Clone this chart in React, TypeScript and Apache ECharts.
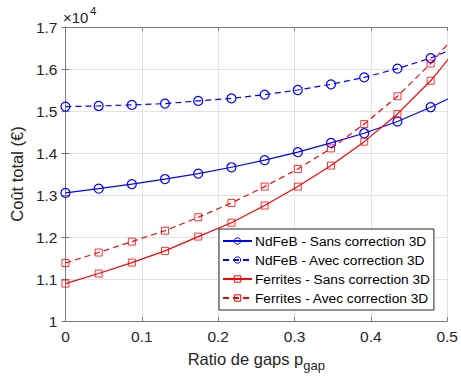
import React, { useEffect, useRef } from "react";
import * as echarts from "echarts";

// Ratio de gaps p_gap
const ratios = [0, 0.0435, 0.087, 0.1304, 0.1739, 0.2174, 0.2609, 0.3043, 0.3478, 0.3913, 0.4348, 0.4783, 0.5217];
// Coût total (€)
const ndfebSans = [13050, 13150, 13260, 13380, 13510, 13660, 13830, 14020, 14240, 14470, 14750, 15090, 15470];
const ndfebAvec = [15105, 15120, 15145, 15176, 15240, 15300, 15390, 15500, 15635, 15800, 16010, 16260, 16580];
const ferritesSans = [10890, 11130, 11390, 11670, 12010, 12340, 12750, 13200, 13700, 14270, 14930, 15720, 16680];
const ferritesAvec = [11380, 11630, 11890, 12150, 12470, 12810, 13200, 13620, 14110, 14690, 15350, 16130, 17030];

const seriesNames = [
  "NdFeB - Sans correction 3D",
  "NdFeB - Avec correction 3D",
  "Ferrites - Sans correction 3D",
  "Ferrites - Avec correction 3D",
];
const xTicks = [0, 0.1, 0.2, 0.3, 0.4, 0.5];

const FONT = "Liberation Sans, Arial, Helvetica, sans-serif";
const AX = "#262626";

export default function App() {
  const ref = useRef<HTMLDivElement>(null);
  useEffect(() => {
    if (!ref.current) return;
    const chart = echarts.init(ref.current, undefined, { renderer: "svg" });
    const mk = (name: string, ys: number[], color: string, dashed: boolean, symbol: string, size: number) => ({
      name,
      type: "line",
      data: ratios.map((x, i) => [x, ys[i]]),
      symbol,
      symbolSize: size,
      showAllSymbol: true,
      clip: true,
      lineStyle: { color, width: 1.2, type: dashed ? [6, 4] : "solid" },
      itemStyle: { color: "transparent", borderColor: color, borderWidth: symbol === "circle" ? 1.2 : 0.8 },
      emphasis: { disabled: true },
    });
    const axisCommon = {
      type: "value",
      axisLine: { show: true, lineStyle: { color: "#7a7a7a", width: 1 } },
      axisTick: { show: true, inside: true, length: 4, lineStyle: { color: "#7a7a7a" } },
    };
    chart.setOption({
      animation: false,
      backgroundColor: "#fff",
      textStyle: { fontFamily: FONT },
      grid: { left: 62, right: 10, top: 27, bottom: 55, containLabel: false },
      xAxis: [
        {
          ...axisCommon,
          min: 0,
          max: 0.5,
          interval: 0.1,
          position: "bottom",
          axisLabel: {
            color: AX,
            fontSize: 15.5,
            margin: 7,
            fontFamily: FONT,
            formatter: (v: number) => {
              const t = xTicks.find((k) => Math.abs(k - v) < 1e-6);
              return t === undefined ? "" : String(t);
            },
          },
          splitLine: { show: true, lineStyle: { color: "#e3e3e3", width: 1 } },
          name: "{a|Ratio de gaps p}{b|gap}",
          nameLocation: "middle",
          nameGap: 24,
          nameTextStyle: {
            rich: {
              a: { fontSize: 16.5, color: AX, fontFamily: FONT },
              b: { fontSize: 13, color: AX, fontFamily: FONT, padding: [14, 0, 0, 0] },
            },
          },
        },
        {
          ...axisCommon,
          min: 0,
          max: 0.5,
          interval: 0.1,
          position: "top",
          axisLabel: { show: false },
          splitLine: { show: false },
        },
      ],
      yAxis: [
        {
          ...axisCommon,
          min: 10000,
          max: 17000,
          interval: 1000,
          position: "left",
          axisLabel: {
            color: AX,
            fontSize: 15.5,
            margin: 8,
            fontFamily: FONT,
            formatter: (v: number) => String(Math.round(v / 100) / 100),
          },
          splitLine: { show: true, lineStyle: { color: "#e3e3e3", width: 1 } },
          name: "Coût total (€)",
          nameLocation: "middle",
          nameGap: 31,
          nameTextStyle: { fontSize: 16.5, color: AX, fontFamily: FONT },
        },
        {
          ...axisCommon,
          min: 10000,
          max: 17000,
          interval: 1000,
          position: "right",
          axisLabel: { show: false },
          splitLine: { show: false },
        },
      ],
      legend: {
        show: true,
        orient: "vertical",
        left: 219,
        top: 229,
        itemWidth: 29,
        itemHeight: 8,
        itemGap: 3,
        padding: [4, 4, 4, 3],
        backgroundColor: "#fff",
        borderColor: "#262626",
        borderWidth: 1,
        borderRadius: 0,
        itemStyle: { borderWidth: 1 },
        textStyle: { color: "#000", fontSize: 13.7, fontFamily: FONT, padding: [0, 0, 0, -2], lineHeight: 16 },
        data: seriesNames,
        selectedMode: false,
      },
      graphic: [
        {
          type: "text",
          left: 63,
          top: 10,
          style: { text: "×10", fontSize: 15, fill: AX, fontFamily: FONT },
        },
        {
          type: "text",
          left: 90,
          top: 5,
          style: { text: "4", fontSize: 11.5, fill: AX, fontFamily: FONT },
        },
      ],
      series: [
        mk(seriesNames[0], ndfebSans, "#0000ff", false, "circle", 9),
        mk(seriesNames[1], ndfebAvec, "#0000ff", true, "circle", 9),
        mk(seriesNames[2], ferritesSans, "#ff0000", false, "rect", 7),
        mk(seriesNames[3], ferritesAvec, "#ff0000", true, "rect", 7),
      ],
    });
    return () => chart.dispose();
  }, []);
  return <div ref={ref} style={{ width: 461, height: 377, position: "fixed", left: 0, top: 0 }} />;
}
